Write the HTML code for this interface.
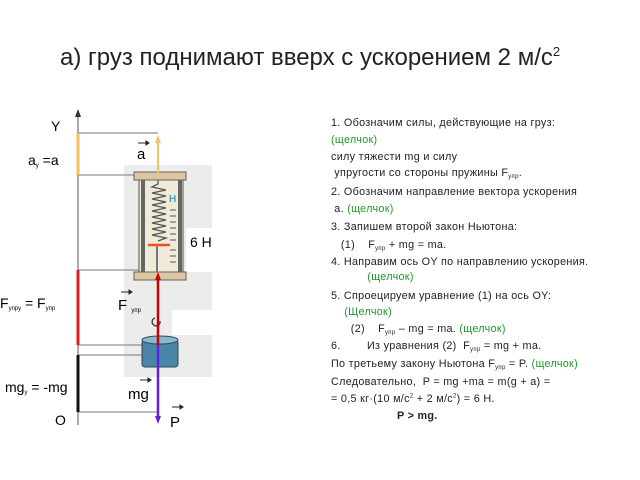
<!DOCTYPE html>
<html><head><meta charset="utf-8"><style>
body{margin:0;width:640px;height:480px;background:#fff;position:relative;overflow:hidden;font-family:"Liberation Sans",sans-serif}
.t{position:absolute;white-space:nowrap}
.r{position:absolute;left:331px;font-size:10.8px;color:#222;white-space:nowrap;letter-spacing:0.3px}
.g{color:#1f9a2a}
sub{font-size:6px;vertical-align:-2px}
</style></head><body>
<div class="t" style="left:60px;top:44px;font-size:24px;color:#222">а) груз поднимают вверх с ускорением 2 м/с<sup style="font-size:13px">2</sup></div>
<svg width="640" height="480" style="position:absolute;left:0;top:0">
<defs>
<marker id="ay" markerUnits="userSpaceOnUse" markerWidth="8" markerHeight="8" refX="4" refY="4" orient="auto"><path d="M0,1L8,4L0,7z" fill="#f5c060"/></marker>
<marker id="ar" markerUnits="userSpaceOnUse" markerWidth="8" markerHeight="8" refX="4" refY="4" orient="auto"><path d="M0,1L8,4L0,7z" fill="#c00"/></marker>
<marker id="ap" markerUnits="userSpaceOnUse" markerWidth="8" markerHeight="8" refX="4" refY="4" orient="auto"><path d="M0,1L8,4L0,7z" fill="#6020e0"/></marker>
</defs>
<path d="M124,165H212V228H186V272H212V310H172V335H212V377H124Z" fill="#ececec"/>
<line x1="78" y1="114" x2="78" y2="425" stroke="#555" stroke-width="1"/>
<path d="M75,117L78,109L81,117z" fill="#333"/>
<g stroke="#777" stroke-width="1">
<line x1="78" y1="133" x2="158" y2="133"/><line x1="78" y1="175" x2="136" y2="175"/>
<line x1="78" y1="270" x2="158" y2="270"/><line x1="78" y1="345" x2="158" y2="345"/>
<line x1="78" y1="355" x2="158" y2="355"/><line x1="78" y1="412" x2="158" y2="412"/>
</g>
<line x1="78" y1="133" x2="78" y2="175" stroke="#f5c060" stroke-width="3"/>
<line x1="78" y1="270" x2="78" y2="345" stroke="#e02020" stroke-width="3"/>
<line x1="78" y1="355" x2="78" y2="412" stroke="#111" stroke-width="3"/>
<rect x="139" y="178" width="44" height="96" fill="#f0ead8" stroke="#555"/>
<rect x="141" y="178" width="4" height="96" fill="#666"/><rect x="178" y="178" width="4" height="96" fill="#666"/>
<rect x="134" y="172" width="52" height="8" fill="#dcc6a4" stroke="#665"/>
<rect x="134" y="272" width="52" height="8" fill="#dcc6a4" stroke="#665"/>
<polyline points="158,180 158,184 152,187 166,190 152,193 166,196 152,199 166,202 152,205 166,208 152,211 166,214 152,217 166,220 152,223 166,226 152,229 166,232 152,235 166,238 158,241" fill="none" stroke="#555" stroke-width="1.3"/>
<line x1="157" y1="245" x2="157" y2="272" stroke="#777" stroke-width="2"/>
<line x1="148" y1="245" x2="170" y2="245" stroke="#f05020" stroke-width="2.5"/>
<g stroke="#555">
<line x1="170" y1="210" x2="176" y2="210"/><line x1="170" y1="216" x2="176" y2="216"/><line x1="170" y1="222" x2="176" y2="222"/><line x1="170" y1="228" x2="176" y2="228"/><line x1="170" y1="234" x2="176" y2="234"/><line x1="170" y1="240" x2="176" y2="240"/><line x1="170" y1="250" x2="176" y2="250"/><line x1="170" y1="256" x2="176" y2="256"/><line x1="170" y1="262" x2="176" y2="262"/>
</g>
<text x="169" y="202" font-size="10" fill="#4aa0c0" font-weight="bold" font-family="Liberation Sans">H</text>
<path d="M155,318a4,4 0 1,0 5,3" fill="none" stroke="#444" stroke-width="1.5"/>
<rect x="142" y="340" width="36" height="27" rx="3" fill="#4a86a8" stroke="#345"/>
<ellipse cx="160" cy="340" rx="18" ry="4" fill="#8ab8d0" stroke="#345"/>
<line x1="158" y1="173" x2="158" y2="139" stroke="#f5c060" stroke-width="2" marker-end="url(#ay)"/>
<line x1="158" y1="345" x2="158" y2="276" stroke="#c00" stroke-width="2.5" marker-end="url(#ar)"/>
<line x1="158" y1="345" x2="158" y2="420" stroke="#6020e0" stroke-width="2.5" marker-end="url(#ap)"/>
<g stroke="#222" stroke-width="1" fill="#222">
<line x1="138" y1="143" x2="146" y2="143"/><path d="M146,141L149,143L146,145z"/>
<line x1="121" y1="292" x2="129" y2="292"/><path d="M129,290L132,292L129,294z"/>
<line x1="140" y1="380" x2="148" y2="380"/><path d="M148,378L151,380L148,382z"/>
<line x1="172" y1="407" x2="180" y2="407"/><path d="M180,405L183,407L180,409z"/>
</g>
</svg>
<div class="t" style="left:51px;top:118px;font-size:14px">Y</div>
<div class="t" style="left:137px;top:146px;font-size:15px">a</div>
<div class="t" style="left:28px;top:152px;font-size:14px">a<sub>y</sub> =a</div>
<div class="t" style="left:190px;top:234px;font-size:14px">6 Н</div>
<div class="t" style="left:0px;top:295px;font-size:14px">F<sub>упру</sub> = F<sub>упр</sub></div>
<div class="t" style="left:118px;top:297px;font-size:15px">F <sub>упр</sub></div>
<div class="t" style="left:5px;top:379px;font-size:14px">mg<sub>y</sub> = -mg</div>
<div class="t" style="left:128px;top:386px;font-size:15px">mg</div>
<div class="t" style="left:55px;top:412px;font-size:14px">O</div>
<div class="t" style="left:170px;top:414px;font-size:15px">P</div>
<div class="r" style="top:117px">1. Обозначим силы, действующие на груз:</div>
<div class="r g" style="top:134px">(щелчок)</div>
<div class="r" style="top:151px">силу тяжести mg и силу</div>
<div class="r" style="top:167px">&nbsp;упругости со стороны пружины F<sub>упр</sub>.</div>
<div class="r" style="top:186px">2. Обозначим направление вектора ускорения</div>
<div class="r" style="top:203px">&nbsp;a. <span class="g">(щелчок)</span></div>
<div class="r" style="top:221px">3. Запишем второй закон Ньютона:</div>
<div class="r" style="top:239px">&nbsp;&nbsp;&nbsp;(1) &nbsp;&nbsp;&nbsp;F<sub>упр</sub> + mg = ma.</div>
<div class="r" style="top:256px">4. Направим ось OY по направлению ускорения.</div>
<div class="r g" style="top:271px">&nbsp;&nbsp;&nbsp;&nbsp;&nbsp;&nbsp;&nbsp;&nbsp;&nbsp;&nbsp;&nbsp;(щелчок)</div>
<div class="r" style="top:290px">5. Спроецируем уравнение (1) на ось OY:</div>
<div class="r g" style="top:306px">&nbsp;&nbsp;&nbsp;&nbsp;(Щелчок)</div>
<div class="r" style="top:323px">&nbsp;&nbsp;&nbsp;&nbsp;&nbsp;&nbsp;(2) &nbsp;&nbsp;&nbsp;F<sub>упр</sub> – mg = ma. <span class="g">(щелчок)</span></div>
<div class="r" style="top:340px">6. &nbsp;&nbsp;&nbsp;&nbsp;&nbsp;&nbsp;&nbsp;Из уравнения (2) &nbsp;F<sub>упр</sub> = mg + ma.</div>
<div class="r" style="top:358px">По третьему закону Ньютона F<sub>упр</sub> = P. <span class="g">(щелчок)</span></div>
<div class="r" style="top:376px">Следовательно, &nbsp;P = mg +ma = m(g + a) =</div>
<div class="r" style="top:393px">= 0,5 кг·(10 м/с<sup style="font-size:6px">2</sup> + 2 м/с<sup style="font-size:6px">2</sup>) = 6 Н.</div>
<div class="r" style="top:410px;font-weight:bold">&nbsp;&nbsp;&nbsp;&nbsp;&nbsp;&nbsp;&nbsp;&nbsp;&nbsp;&nbsp;&nbsp;&nbsp;&nbsp;&nbsp;&nbsp;&nbsp;&nbsp;&nbsp;&nbsp;&nbsp;P &gt; mg.</div>
</body></html>
